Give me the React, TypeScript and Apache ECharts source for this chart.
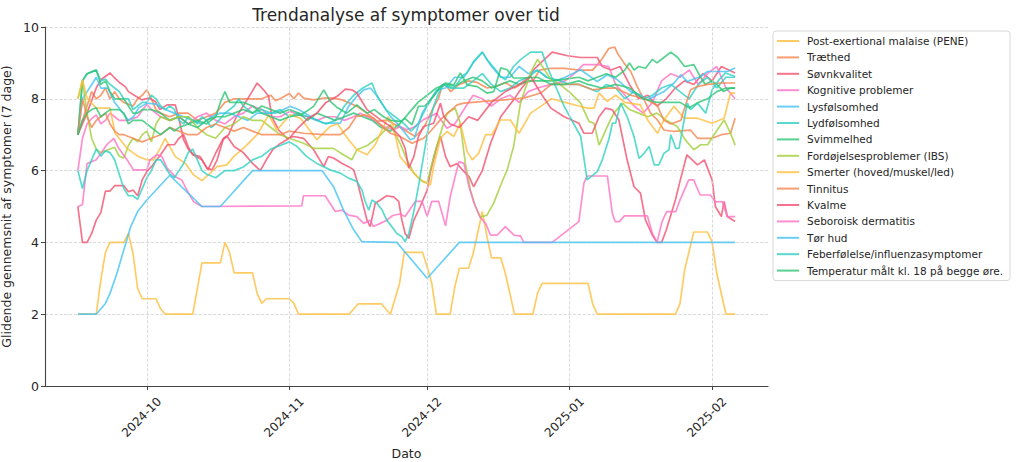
import React, { useEffect, useRef } from "react";
import * as echarts from "echarts";

// ---- data: [day offset from 2024-09-16, 7-day rolling mean] ----
const startDay = "2024-09-16";
const monthTicks = ["2024-10-01", "2024-11-01", "2024-12-01", "2025-01-01", "2025-02-01"];
const yTicks = [0, 2, 4, 6, 8, 10];

const names = [
  "Post-exertional malaise (PENE)",
  "Træthed",
  "Søvnkvalitet",
  "Kognitive problemer",
  "Lysfølsomhed",
  "Lydfølsomhed",
  "Svimmelhed",
  "Fordøjelsesproblemer (IBS)",
  "Smerter (hoved/muskel/led)",
  "Tinnitus",
  "Kvalme",
  "Seboroisk dermatitis",
  "Tør hud",
  "Feberfølelse/influenzasymptomer",
  "Temperatur målt kl. 18 på begge øre.",
];

const palette = ["#FFBE3D", "#F5844F", "#F2506E", "#FF72C6", "#45C3F3", "#2ED1C2", "#2CC574", "#A3CF38"];

const pene = [[0,2],[4,2],[5,2.95],[6,3.72],[7,4.0],[10,4.0],[11,4.25],[12,3.69],[13,2.72],[14,2.43],[17,2.43],[18,2.15],[19,2],[25,2],[27,3.43],[31,3.43],[32,4.0],[33,3.72],[34,3.15],[38,3.15],[39,2.58],[40,2.3],[41,2.43],[46,2.43],[47,2.3],[48,2],[59,2],[61,2.29],[66,2.29],[68,2],[70,2.86],[71,3.72],[75,3.72],[76,3.32],[77,2.86],[78,2],[81,2],[82,2.76],[83,3.28],[85,3.28],[86,3.69],[88,4.86],[89,4.16],[90,3.57],[92,3.57],[93,3.14],[95,2],[99,2],[100,2.58],[101,2.86],[111,2.86],[112,2.29],[113,2],[130,2],[131,2.29],[132,3.23],[134,4.29],[137,4.29],[138,4.0],[139,3.14],[141,2],[143,2]];

const traethed = [[0,7.0],[2,7.8],[3,8.2],[4,8.0],[5,8.1],[6,8.3],[7,8.0],[8,8.2],[9,8.0],[10,7.9],[12,7.8],[13,8.0],[14,8.1],[15,8.25],[16,8.0],[17,7.7],[18,7.6],[20,7.5],[22,7.6],[24,7.6],[26,7.4],[28,7.5],[30,7.6],[32,7.9],[34,8.0],[36,8.0],[38,8.0],[40,8.0],[42,8.1],[43,7.95],[44,8.0],[46,8.15],[47,8.0],[48,8.16],[49.1,8.02],[51.3,7.97],[53.5,8.02],[55.6,8.02],[57.5,7.97],[60.7,7.79],[62.9,7.6],[65.1,7.37],[67.3,7.41],[71.6,7.09],[73.4,6.95],[75.3,7.2],[77.1,7.69],[78.5,8.02],[79.2,8.34],[80,8.39],[81.1,8.2],[83,8.4],[85,8.5],[87,8.45],[89,8.3],[91,8.35],[93,8.45],[95,8.3],[97,8.45],[99,8.5],[100.5,8.8],[103,8.85],[106,8.85],[109,8.8],[112,8.8],[114,9.1],[115.5,9.4],[116.8,9.44],[117.4,9.27],[118.8,9.0],[120.3,8.76],[121.7,8.34],[123.2,7.97],[124.6,7.6],[126.1,7.41],[127.5,7.13],[129.7,7.09],[133.3,7.13],[134.8,6.9],[138,6.9],[140,7.0],[142,7.04],[143,7.46]];

const soevn = [[0,7.0],[2,7.6],[4,8.3],[5,8.53],[7,8.72],[8,8.58],[9.2,8.44],[10.3,8.34],[11,8.2],[12.1,8.11],[13.9,7.97],[15.4,8.02],[16.8,7.93],[17.9,7.7],[19.4,7.83],[21.2,7.83],[21.9,7.5],[23,6.86],[24.1,6.58],[25.2,6.44],[26.6,6.39],[28.1,6.07],[29.2,6.02],[30.3,6.3],[31.7,6.9],[32.8,7.0],[34.5,7.5],[36.8,7.97],[37.9,8.2],[39,8.44],[40.4,8.25],[41.5,8.07],[42.2,7.5],[43.7,7.13],[45.5,6.9],[47,6.95],[49.1,6.9],[51.3,6.58],[53.5,6.11],[54.5,6.39],[55.6,6.35],[57.5,6.2],[58.9,6.11],[60,6.02],[60.7,5.74],[61.8,5.18],[62.9,4.62],[63.6,4.44],[64.7,5.09],[65.8,5.18],[67.2,5.3],[68.7,5.27],[69.8,5.14],[70.5,4.62],[71.2,4.25],[72,4.11],[73.1,4.62],[74.5,5.0],[76,5.46],[76.7,5.97],[78.1,6.67],[78.9,6.95],[80,6.39],[81,6.11],[82.5,6.2],[84,5.97],[85.1,5.83],[86.1,5.55],[88,6.0],[88.7,6.3],[89.8,6.76],[90.9,7.13],[92,7.5],[93.4,7.74],[94.8,7.97],[96.3,8.25],[97.7,8.48],[99.2,8.81],[100.7,9.0],[103.2,9.3],[106.5,9.2],[109.4,9.15],[113,9.15],[114.1,8.9],[116,8.8],[118,8.9],[120,8.4],[122,8.0],[124,8.1],[126,7.8],[128,8.0],[130,8.3],[132,8.5],[134,8.4],[136,8.7],[138,8.5],[140,8.9],[143,8.72]];

const kognitive = [[0,6.0],[1,6.9],[2,7.3],[3,7.45],[4,7.55],[5,7.3],[6,7.4],[7,7.6],[8,7.5],[9,7.4],[11,7.4],[13,7.5],[15,7.85],[16,7.7],[18,7.5],[20,7.4],[22,7.5],[24,7.3],[26,7.5],[28,7.6],[30,7.4],[32,7.3],[34,7.5],[36,7.6],[38,7.8],[40,7.7],[42,7.5],[44,7.5],[46.2,7.65],[48,7.55],[50,7.5],[52,7.4],[54,7.5],[56,7.5],[58,7.4],[60,7.5],[61.4,7.6],[63.6,7.46],[66.5,7.23],[68.7,7.14],[70.1,7.23],[71.6,7.14],[73,7.2],[75.2,7.42],[76.7,7.51],[78,7.6],[80.3,7.18],[82,7.3],[84,7.7],[86,8.1],[88,8.0],[90,7.8],[92,8.0],[94,8.1],[96,7.9],[98,8.2],[100,8.3],[103,8.4],[106,8.5],[108,8.7],[110,8.95],[113,8.95],[115.5,8.9],[117,8.4],[119,8.1],[121,7.8],[123,7.6],[125,7.9],[127,8.5],[129,8.7],[131,8.6],[133,8.8],[135,8.4],[137,8.7],[139,8.9],[141,8.3],[143,8.0]];

const lys = [[0,7.0],[1,8.0],[3,8.39],[4,8.6],[5,8.3],[6.5,8.3],[8,7.9],[9.2,7.7],[11,7.4],[12.1,7.5],[13.2,7.74],[15,7.88],[17,7.85],[19,7.7],[21,7.6],[23,7.5],[25,7.4],[27,7.3],[29,7.5],[31,7.6],[33,7.6],[35,7.5],[37,7.4],[39,7.6],[41,7.6],[43,7.6],[46.2,7.79],[48,7.7],[51.3,7.46],[53.5,7.32],[57.1,7.32],[58.9,7.79],[60.7,8.07],[62.2,8.25],[63.6,8.3],[65,8.1],[68,7.51],[70.1,7.23],[72.3,6.86],[73.2,6.9],[74.9,7.6],[76.7,7.97],[78.1,8.25],[80,8.3],[82,8.6],[84,8.6],[86,9.0],[88,9.3],[90,8.9],[92,8.6],[94,8.6],[96,8.9],[98,8.7],[100,8.8],[102,8.6],[104,8.5],[106,8.6],[109.4,8.81],[113,8.48],[115.2,8.67],[117.4,8.53],[120.3,8.2],[122.4,8.11],[123.9,7.97],[126.1,8.11],[127.5,8.2],[129.7,8.44],[131.2,8.67],[132.6,8.48],[135.5,8.62],[137,8.76],[141.3,8.76],[143,8.86]];

const lyd = [[0,7.0],[1,8.5],[2,8.7],[3,8.75],[4,8.8],[5,8.5],[6,8.55],[7,8.4],[8,8.3],[9,8.2],[10,8.0],[11,8.0],[12,7.7],[13,7.8],[14,7.9],[15,7.9],[16,8.1],[17,8.0],[18,7.8],[19,7.7],[20,7.8],[21,7.7],[22,7.4],[23,7.3],[24,7.5],[25,7.4],[26,7.3],[27,7.5],[28,7.4],[29,7.2],[30,7.3],[32,7.6],[34,7.8],[35,8.0],[36,7.8],[38,7.6],[40,7.7],[42,7.6],[44,7.7],[46,7.5],[48,7.6],[50,7.5],[52,7.4],[54,7.3],[56,7.4],[58,7.8],[60,8.1],[62,8.3],[64,8.44],[65,8.1],[67,7.7],[69,7.5],[71,7.3],[72.5,7.1],[74,7.3],[76,7.8],[77.4,8.1],[79.6,8.4],[81,8.3],[82,8.3],[84,8.3],[86,8.5],[88,8.7],[90,8.4],[92,8.2],[94,8.3],[96,8.5],[98,8.6],[100,8.8],[102,8.6],[105,8.5],[107,8.4],[109,8.4],[111,8.3],[113,8.2],[115,8.4],[117,8.3],[119,8.0],[121,8.2],[123,8.0],[125,8.1],[127,8.3],[129,8.4],[131,8.2],[133,8.0],[135,8.4],[137,8.6],[139,8.3],[141,8.6],[143,8.6]];

const svimmel = [[0,7.0],[1,8.5],[2,8.7],[3,8.75],[4,8.8],[5,8.4],[6,8.5],[7,8.2],[8,8.0],[10,8.0],[11,7.8],[12,7.6],[13,7.6],[14,7.7],[16,7.7],[18,7.6],[20,7.4],[22,7.5],[24,7.3],[26,7.4],[28,7.3],[30,7.5],[32,7.5],[34,7.6],[36,7.7],[38,7.6],[40,7.8],[42,7.7],[44,7.6],[46,7.7],[48,7.6],[50,7.4],[52,7.6],[54,7.5],[56,7.4],[58,7.5],[60,7.6],[62,7.5],[64,7.4],[66,7.2],[68,7.1],[70,7.3],[72,7.6],[74,7.9],[76,8.1],[78,8.3],[80,8.4],[82,8.35],[84,8.5],[86,8.6],[88,8.5],[90,8.3],[92,8.4],[94,8.5],[96,8.4],[98,8.5],[100,8.5],[103,8.5],[106,8.55],[109,8.6],[111,8.5],[113,8.6],[115,8.7],[117,8.6],[119,8.8],[120,9.0],[121,8.8],[122,8.9],[123.5,8.85],[125,9.1],[126,9.0],[127.5,9.15],[129,9.3],[130.5,9.15],[132,8.9],[134,8.95],[135.5,8.6],[136.5,8.4],[138,8.5],[139,8.4],[140.5,8.2],[142,8.3],[143,8.3]];

const ibs = [[0,8.0],[1,8.5],[2,7.6],[3,6.9],[4,6.6],[5,6.5],[6,6.55],[7,6.6],[8,6.65],[9,6.4],[10,6.35],[11,6.7],[12,6.9],[13,6.8],[14,7.0],[15,7.1],[16,6.8],[17,7.3],[18,7.5],[20,7.4],[22,7.5],[24,7.5],[26,7.2],[28,7.0],[30,6.9],[32,7.2],[34,7.3],[36,7.5],[38,7.4],[40,7.4],[42,7.2],[44,7.0],[46,6.9],[49.1,6.76],[51.3,6.62],[53.5,6.62],[55.6,6.62],[57.8,6.44],[59.6,6.3],[60.7,6.58],[63,6.7],[65.5,6.95],[68,7.28],[70.1,6.76],[71.6,6.3],[73.1,5.93],[74.9,5.7],[76,5.65],[77.4,6.39],[78.9,7.04],[80.3,7.6],[82.1,7.74],[83.2,7.32],[84.3,6.2],[85.4,5.46],[86.5,5.0],[87.6,4.7],[89,4.76],[90.5,5.1],[92,5.6],[93.4,6.02],[94.8,6.67],[96.3,7.88],[98.5,8.72],[100,9.1],[101.4,8.84],[102.9,8.53],[105,8.39],[107.2,8.16],[109.4,7.88],[111.2,7.37],[112.3,7.32],[113.4,6.71],[115.2,7.23],[116.6,7.6],[118.5,7.88],[120,7.7],[122,7.6],[124,7.5],[126,7.6],[128,7.4],[130.4,7.23],[132.2,6.85],[134,6.58],[135.5,6.72],[137,6.72],[139.1,7.13],[140.6,7.41],[142,7.04],[143,6.71]];

const smerter = [[0,8.0],[1,8.53],[2,8.02],[4,7.74],[7,7.74],[8.1,7.04],[10.7,6.62],[13.2,6.39],[15,6.3],[16.5,6.3],[17.9,6.62],[19,6.9],[21.2,6.39],[23.4,6.2],[25.2,5.88],[27,5.72],[30.3,6.11],[32.4,6.16],[33.9,6.39],[36.4,6.67],[39,7.0],[41.5,7.55],[43.3,7.13],[46.2,7.56],[48.4,7.46],[50,7.2],[52,6.86],[54.9,7.23],[56.5,7.3],[58.9,6.86],[60.7,6.58],[62.9,6.44],[64.7,6.72],[66.2,7.14],[67.5,7.5],[68.5,7.3],[70.1,6.39],[72,6.1],[74.1,5.79],[75.2,5.7],[76.7,5.6],[77.4,6.11],[78.9,6.9],[80.3,7.09],[81.8,6.95],[83.2,7.32],[84.7,6.53],[85.8,6.3],[87.2,6.48],[88.7,7.0],[90.1,7.0],[91.9,7.41],[94.1,7.41],[96,7.04],[98.5,7.6],[100.7,7.79],[103,8.0],[106,7.9],[109,7.8],[110.8,7.74],[112.3,7.74],[113.4,8.16],[115.2,7.93],[117,8.1],[119,7.9],[122.4,7.83],[124,7.4],[126.1,7.04],[127.5,7.41],[129.7,7.79],[131.9,7.46],[134.8,7.46],[138,7.32],[140.6,7.46],[142,8.16],[143,8.16]];

const tinnitus = [[0,7.0],[1,8.0],[2,7.5],[3,7.2],[4,7.4],[5,7.5],[6,7.6],[7,7.3],[8,7.1],[9,7.0],[10,7.0],[12,6.9],[14,6.8],[16,6.9],[18,7.0],[20,7.2],[22,7.1],[24,7.0],[26,7.0],[28,7.2],[30,7.3],[32,7.2],[34,7.1],[36,7.2],[38,7.1],[40,7.0],[42,7.0],[44,7.0],[46,7.1],[49.1,7.04],[53.5,7.0],[57.1,7.0],[59,7.2],[60.5,7.5],[62.5,7.55],[64.4,7.46],[66.2,7.23],[68,7.04],[70.1,6.95],[72.7,6.76],[75.2,6.9],[76.7,7.09],[78.9,7.42],[80.5,7.6],[82.5,7.83],[84,7.88],[88.3,7.93],[92.7,7.97],[97,8.02],[100.7,8.16],[103,8.4],[106,8.4],[109,8.4],[112,8.25],[115,8.3],[117,8.3],[120.3,8.1],[123.5,8.0],[126.1,7.8],[127.5,7.4],[129,7.3],[131.2,7.4],[131.9,7.7],[133.3,8.25],[134.8,8.34],[137,8.4],[140,8.44],[143,8.44]];

const kvalme = [[0,5],[1,4.0],[2,4.0],[3,4.25],[4,4.62],[5,4.83],[6,5.43],[7,5.43],[8,5.58],[10,5.58],[11,5.41],[12,5.46],[13,5.3],[14,5.74],[15,5.97],[16,6.11],[18,6.44],[19.5,6.72],[21,6.72],[22,6.9],[23,7.0],[24,6.67],[25,6.44],[27,6.3],[28.3,6.02],[30,6.49],[31.5,6.86],[32.5,6.95],[34,6.67],[36,6.5],[38,6.2],[39.7,6.0],[41,6.3],[42.5,6.6],[44,6.75],[46,6.9],[48,7.2],[50,7.45],[52,7.6],[54,7.9],[56.4,8.07],[58.2,8.27],[59.6,8.25],[60.7,8.16],[61.8,7.93],[62.9,7.7],[65.8,7.42],[68,7.23],[70.1,6.95],[71.2,6.62],[72,6.07],[73.1,6.39],[74.1,6.95],[75.2,7.23],[77.4,7.32],[78.9,7.88],[79.6,7.51],[81,7.3],[83,7.2],[85,7.5],[87,7.4],[90,7.9],[93,8.2],[96,8.4],[98.5,8.62],[100.7,8.16],[102.9,7.74],[105.8,7.5],[109,7.32],[110.1,7.04],[111.9,7.04],[113.4,7.5],[114.8,7.74],[116.3,7.69],[117.7,7.41],[119.5,6.3],[121,5.55],[122.4,5.37],[123.5,4.62],[125,4.2],[126,4.0],[127,4.0],[128,4.34],[130,5.18],[131,5.7],[132.5,6.44],[134.8,6.16],[136.3,6.3],[138,5.74],[138.7,5.0],[140,4.72],[140.6,5.14],[141.3,4.72],[143,4.58]];

const seboroisk = [[0,5],[1,5.05],[2,6.2],[3,6.25],[4,6.3],[5,6.48],[6.3,6.72],[7.8,6.9],[8.9,6.62],[10.7,6.3],[12.1,6.02],[15,6.02],[15.7,6.3],[17.2,6.44],[18.3,6.39],[19.4,6.07],[21.2,5.83],[22.6,5.74],[23.7,5.46],[25.2,5.13],[27,5.0],[48.7,5.02],[49.1,5.3],[53.8,5.3],[56,4.86],[57.5,4.9],[58.9,4.76],[60.7,4.72],[62.2,4.53],[63.6,4.62],[64.3,4.44],[65.8,4.53],[67.2,4.62],[68.5,4.75],[70.1,4.79],[71.2,4.72],[73.4,5.14],[74.9,5.14],[76,4.72],[77,5.14],[78.5,5.14],[80,4.46],[81,5.27],[82.9,6.25],[84,6.2],[85.1,5.55],[86.1,5.13],[87.5,4.7],[88.7,4.53],[89.8,4.2],[91.2,4.2],[93,4.44],[94.9,4.2],[96.3,4.18],[97,4.0],[103.2,4.0],[109,4.58],[110.1,5.65],[110.8,5.85],[115.2,5.85],[116.3,4.8],[116.9,4.58],[117.8,4.58],[118.9,4.74],[123.9,4.74],[125,4.25],[126,4.0],[127.1,4.58],[128.1,4.86],[130.1,4.86],[131,5.18],[132.9,5.74],[134,5.74],[134.6,5.55],[135.4,5.32],[137.6,5.32],[138.7,5.13],[140.2,5.14],[141.3,4.72],[143,4.72]];

const toerHud = [[0,2],[4,2],[6,2.3],[7,2.58],[8.5,3.14],[10,3.79],[11.5,4.44],[13,4.86],[15,5.18],[20,5.87],[27,5.0],[31,5.0],[38,6.0],[53.1,6.0],[55.6,5.56],[57.8,4.9],[60,4.35],[61.8,4.02],[69.4,4.0],[76,3.0],[83,4.0],[143,4.0]];

const feber = [[0,6.0],[1,5.5],[2,6.0],[4,6.6],[5,6.4],[6,6.55],[7,6.5],[8,6.3],[9,5.9],[10,5.5],[11,5.3],[12,5.3],[13,5.2],[14,5.5],[15,5.8],[16,6.0],[17,6.3],[18,6.3],[19,6.1],[20,5.9],[21,5.8],[22,6.0],[23,6.2],[24,6.5],[25,6.6],[26,6.3],[27,6.0],[28,5.9],[30,5.8],[32,6.0],[34,6.0],[36,6.1],[38,6.3],[40,6.4],[42,6.6],[44,6.7],[46,6.8],[47.7,6.67],[49.8,6.39],[52,6.2],[54.9,6.02],[57.1,5.93],[58.9,5.79],[60.7,5.7],[61.8,5.46],[62.5,5.14],[63.3,4.9],[64,5.18],[65,5.1],[66.2,4.9],[67.2,4.62],[68.3,4.44],[69.4,4.25],[70.5,4.16],[71.2,4.02],[72,4.25],[73.1,4.86],[74.1,5.56],[75.2,6.39],[76.3,7.23],[77.4,7.79],[78.5,8.16],[79.6,8.4],[80.7,8.34],[81.8,8.3],[84,8.67],[84.7,8.72],[86.1,9.04],[88,9.3],[89,9.09],[90.9,8.81],[92,8.62],[93,8.53],[94.8,8.9],[96.3,9.09],[98.5,9.3],[101,9.3],[102.1,8.9],[105.8,7.79],[109.4,6.95],[110.8,5.74],[113,5.97],[114.1,6.3],[115.5,6.86],[116.3,7.32],[117,7.32],[118.1,7.88],[119.5,7.5],[121,6.95],[122.1,6.34],[123.2,6.48],[124.3,6.67],[125.4,6.16],[126.4,6.16],[127.5,6.48],[128.6,6.58],[129,7.0],[130.1,6.62],[130.8,6.62],[131.9,7.41],[132.6,7.88],[133.3,7.7],[134.8,7.88],[136.6,7.6],[138,8.25],[139.5,8.53],[140.9,8.72],[143,8.62]];

const temperatur = [[0,7.0],[1,7.4],[2,7.6],[3,7.7],[4,7.75],[5,7.5],[6,7.6],[7,7.7],[9,7.7],[10,7.6],[11,7.3],[12,7.4],[14,7.4],[15,7.3],[16,7.2],[17,7.1],[18,7.0],[19,7.1],[20,7.2],[21,7.1],[22,7.2],[24,7.3],[26,7.2],[28,7.4],[30,7.5],[31,7.9],[32,8.2],[33,7.9],[36,7.9],[38,7.8],[40,7.6],[42,7.5],[44,7.4],[46,7.5],[48.4,7.55],[50.2,7.69],[51.3,7.79],[53.5,8.25],[54.9,7.93],[56.5,7.75],[58.5,7.6],[60.7,7.83],[62.9,7.6],[64.5,7.7],[66.5,7.5],[68,7.4],[70.1,7.37],[71.2,7.45],[72.7,7.28],[74.1,7.79],[75.5,7.8],[77.4,8.07],[78.9,8.35],[80,8.44],[81.8,8.39],[83.2,8.72],[84.7,8.39],[86.9,8.34],[89,8.16],[90.5,8.2],[92,8.86],[93.4,8.81],[94.8,8.58],[96.3,8.58],[100,8.6],[103,8.4],[106,8.4],[109,8.5],[111,8.4],[114,8.3],[117,8.4],[120,8.3],[123,8.0],[126,7.9],[129,7.9],[131,7.9],[133,7.75],[135,7.9],[137,8.0],[139,8.2],[141,8.3],[143,8.3]];

const seriesPoints = [pene, traethed, soevn, kognitive, lys, lyd, svimmel, ibs, smerter, tinnitus, kvalme, seboroisk, toerHud, feber, temperatur];

const FONT = "DejaVu Sans, sans-serif";
const DAY = 86400000;

function utc(s: string) {
  const [y, m, d] = s.split("-").map(Number);
  return Date.UTC(y, m - 1, d);
}

export default function App() {
  const ref = useRef<HTMLDivElement>(null);
  useEffect(() => {
    if (!ref.current) return;
    const chart = echarts.init(ref.current, null, { renderer: "svg" });
    const start = utc(startDay);
    const lastDay = 143;
    const margin = lastDay * 0.05;
    const ticks = monthTicks.map(utc);
    const fmt = (v: number) => {
      const dt = new Date(v);
      return dt.getUTCFullYear() + "-" + String(dt.getUTCMonth() + 1).padStart(2, "0");
    };
    const lineSeries = seriesPoints.map((pts, i) => ({
      name: names[i],
      type: "line",
      data: pts.map(([d, v]) => [start + d * DAY, v]),
      showSymbol: false,
      symbol: "none",
      color: palette[i % palette.length],
      lineStyle: { width: 1.7, opacity: 0.8 },
      itemStyle: { opacity: 0.8 },
      silent: true,
      z: 3,
    }));
    const gridSeries = {
      name: "__grid",
      type: "line",
      data: [],
      silent: true,
      z: 1,
      markLine: {
        silent: true,
        symbol: "none",
        label: { show: false },
        lineStyle: { type: "dashed", color: "#d0d0d0", width: 0.8 },
        data: ticks.map((t) => ({ xAxis: t })),
      },
    };
    chart.setOption({
      animation: false,
      backgroundColor: "#ffffff",
      textStyle: { fontFamily: FONT },
      graphic: [
        {
          type: "text",
          x: 406,
          y: 15,
          style: {
            text: "Trendanalyse af symptomer over tid",
            textAlign: "center",
            textVerticalAlign: "middle",
            fontSize: 17,
            fontFamily: FONT,
            fill: "#262626",
          },
        },
      ],
      grid: { left: 45, right: 256, top: 27, bottom: 76, containLabel: false, outerBoundsMode: "none" },
      legend: {
        data: names,
        orient: "vertical",
        left: 773,
        top: 31,
        icon: "rect",
        itemWidth: 22,
        itemHeight: 2,
        itemGap: 4.4,
        padding: [4, 7, 4, 4],
        borderColor: "#d8d8d8",
        borderWidth: 1,
        borderRadius: 3,
        backgroundColor: "#ffffff",
        selectedMode: false,
        textStyle: { fontSize: 10.5, lineHeight: 12, color: "#262626", fontFamily: FONT, padding: [0, 0, 0, 3] },
      },
      xAxis: {
        type: "value",
        min: start - margin * DAY,
        max: start + (lastDay + margin) * DAY,
        name: "Dato",
        nameLocation: "middle",
        nameGap: 61,
        nameMoveOverlap: false,
        nameTextStyle: { fontSize: 12.5, color: "#262626", fontFamily: FONT },
        axisLine: { show: true, onZero: false, lineStyle: { color: "#444", width: 1.1 } },
        axisTick: { show: true, length: 4, lineStyle: { color: "#444" }, customValues: ticks },
        axisLabel: {
          customValues: ticks,
          formatter: fmt,
          rotate: 45,
          align: "center",
          verticalAlign: "middle",
          padding: [0, 15, 15, 0],
          fontSize: 12,
          color: "#262626",
          fontFamily: FONT,
          margin: 26,
        },
        splitLine: { show: false },
      },
      yAxis: {
        type: "value",
        min: 0,
        max: 10,
        interval: 2,
        name: "Glidende gennemsnit af symptomer (7 dage)",
        nameLocation: "middle",
        nameGap: 32,
        nameMoveOverlap: false,
        nameTextStyle: { fontSize: 12.5, color: "#262626", fontFamily: FONT },
        axisLine: { show: true, lineStyle: { color: "#444", width: 1.1 } },
        axisTick: { show: true, length: 4, lineStyle: { color: "#444" } },
        axisLabel: { fontSize: 12.5, color: "#262626", fontFamily: FONT, margin: 6 },
        splitLine: { show: true, lineStyle: { type: "dashed", color: "#d0d0d0", width: 0.8 } },
      },
      series: [gridSeries, ...lineSeries],
    });
    return () => chart.dispose();
  }, []);
  return (
    <div
      ref={ref}
      style={{ position: "fixed", left: 0, top: 0, width: 1024, height: 462, background: "#fff" }}
    />
  );
}
